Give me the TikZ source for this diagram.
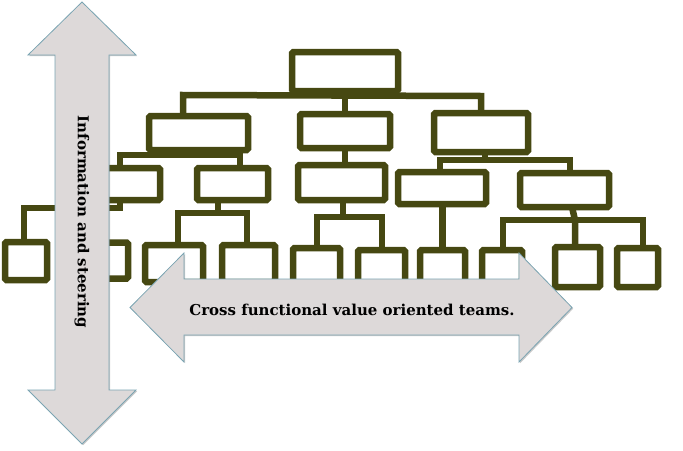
\documentclass[tikz,border=0pt]{standalone}
\usepackage{fontspec}
\setmainfont{DejaVu Serif}
\usetikzlibrary{shadows}
\definecolor{olive}{RGB}{70,72,18}
\definecolor{arrowfill}{RGB}{221,217,217}
\definecolor{arrowline}{RGB}{122,164,178}
\begin{document}
\begin{tikzpicture}[x=1pt,y=-1pt,
  ob/.style={draw=olive, line width=6.5pt, fill=white, inner sep=0pt, rounded corners=1.5pt},
  cn/.style={draw=olive, line width=6.5pt},
  bigarrow/.style={fill=arrowfill, draw=arrowline, line width=0.8pt, line join=miter,
    drop shadow={shadow xshift=1.2pt, shadow yshift=-1.2pt, opacity=0.35, fill=black!60}},
  lbl/.style={font=\bfseries\fontsize{15}{17}\selectfont, inner sep=0pt}
]
\useasboundingbox (0,0) rectangle (683,450);

% bus coordinates
\coordinate (b1l) at (183,95);  \coordinate (b1r) at (481,96);
\coordinate (b2l) at (120,155); \coordinate (b2r) at (240,155); \coordinate (s2a) at (193,155);
\coordinate (b3l) at (440,160); \coordinate (b3r) at (570,160); \coordinate (s2c) at (485,160);
\coordinate (b4a) at (24,208);  \coordinate (s3a) at (120,208);
\coordinate (b4bl) at (178,213); \coordinate (b4br) at (247,213); \coordinate (s3b) at (218,213);
\coordinate (b4cl) at (317,217); \coordinate (b4cr) at (382,217); \coordinate (s3c) at (343,217);
\coordinate (b4el) at (503,220); \coordinate (b4er) at (643,220); \coordinate (s3e) at (572,220);
\coordinate (d4e) at (575,220);

% boxes
\node[ob, minimum width=99.5, minimum height=32.5] (T)   at (345,71.5) {};
\node[ob, minimum width=92.5, minimum height=27.5] (L2a) at (198.5,133) {};
\node[ob, minimum width=83.5, minimum height=27.5] (L2b) at (345,131) {};
\node[ob, minimum width=87.5, minimum height=32.5] (L2c) at (481,132.5) {};
\node[ob, minimum width=63.5, minimum height=25.5] (L3a) at (125,184) {};
\node[ob, minimum width=64.5, minimum height=25.5] (L3b) at (232.5,184) {};
\node[ob, minimum width=80.5, minimum height=28.5] (L3c) at (341.5,182.5) {};
\node[ob, minimum width=81.5, minimum height=25.5] (L3d) at (442,188) {};
\node[ob, minimum width=82.5, minimum height=27.5] (L3e) at (564.5,190) {};
\node[ob, minimum width=35.5, minimum height=31.5] (L4a) at (26,261) {};
\node[ob, minimum width=26.5, minimum height=29.5] (L4b) at (111.5,260.5) {};
\node[ob, minimum width=51.5, minimum height=30.5] (L4c) at (174,263.5) {};
\node[ob, minimum width=46.5, minimum height=30.5] (L4d) at (248.5,263.5) {};
\node[ob, minimum width=40.5, minimum height=30.5] (L4e) at (316.5,266.5) {};
\node[ob, minimum width=40.5, minimum height=30.5] (L4f) at (381.5,268.5) {};
\node[ob, minimum width=38.5, minimum height=30.5] (L4g) at (442.5,268.5) {};
\node[ob, minimum width=33.5, minimum height=30.5] (L4h) at (502,268.5) {};
\node[ob, minimum width=38.5, minimum height=33.5] (L4i) at (577.5,267) {};
\node[ob, minimum width=34.5, minimum height=32.5] (L4j) at (637.5,267.5) {};

% connectors
\draw[cn] (T.south) -- (T.south |- b1l);
\draw[cn] (L2a.north -| b1l) -- (b1l) -- (b1r) -- (L2c.north -| b1r);
\draw[cn] (T.south) -- (L2b.north);
\draw[cn] (L2a.south -| s2a) -- (s2a);
\draw[cn] (L3a.north -| b2l) -- (b2l) -- (b2r) -- (L3b.north -| b2r);
\draw[cn] (L2b.south) -- (L2b.south |- L3c.north);
\draw[cn] (L2c.south -| s2c) -- (s2c);
\draw[cn] (L3d.north -| b3l) -- (b3l) -- (b3r) -- (L3e.north -| b3r);
\draw[cn] (L3a.south -| s3a) -- (s3a) -- (b4a) -- (L4a.north -| b4a);
\draw[cn] (L3b.south -| s3b) -- (s3b);
\draw[cn] (L4c.north -| b4bl) -- (b4bl) -- (b4br) -- (L4d.north -| b4br);
\draw[cn] (L3c.south -| s3c) -- (s3c);
\draw[cn] (L4e.north -| b4cl) -- (b4cl) -- (b4cr) -- (L4f.north -| b4cr);
\draw[cn] (L3d.south -| L4g.north) -- (L4g.north);
\draw[cn] (L3e.south -| s3e) -- (d4e) -- (L4i.north -| d4e);
\draw[cn] (L4h.north -| b4el) -- (b4el) -- (b4er) -- (L4j.north -| b4er);

% boxes redrawn on top of connectors
\foreach \n in {T,L2a,L2b,L2c,L3a,L3b,L3c,L3d,L3e,L4a,L4b,L4c,L4d,L4e,L4f,L4g,L4h,L4i,L4j}{
  \draw[draw=olive, line width=6.5pt, fill=white, rounded corners=1.5pt]
    (\n.north west) rectangle (\n.south east);
}

% big arrows
\draw[bigarrow] (82,2) -- (136,55) -- (109,55) -- (109,390) -- (136,390) -- (82,444)
  -- (28,390) -- (55,390) -- (55,55) -- (28,55) -- cycle;
\draw[bigarrow] (130,307.5) -- (184,253) -- (184,279) -- (519,279) -- (519,253)
  -- (572,307.5) -- (519,362) -- (519,335) -- (184,335) -- (184,362) -- cycle;

\node[lbl, rotate=-90] (vtext) at (82,222) {Information and steering};
\node[lbl] (htext) at (352,310) {Cross functional value oriented teams.};
\end{tikzpicture}
\end{document}
